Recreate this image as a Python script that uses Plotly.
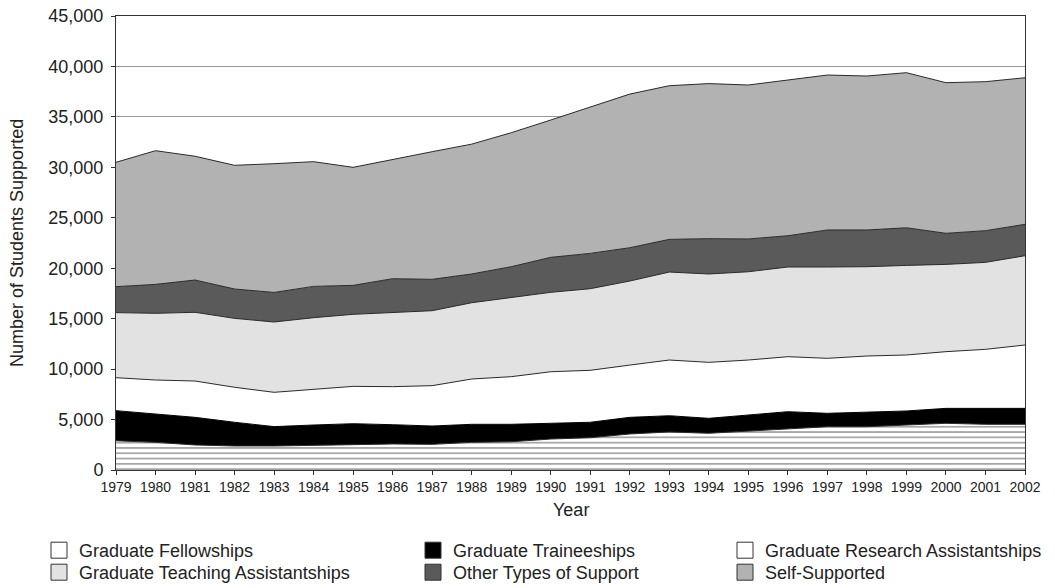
import plotly.graph_objects as go

years = list(range(1979, 2003))
year_labels = [str(y) for y in years]

fellowships = [2900, 2740, 2480, 2380, 2380, 2410, 2510, 2580, 2540, 2740, 2800, 3070,
               3200, 3570, 3770, 3640, 3870, 4130, 4290, 4290, 4460, 4630, 4530, 4530]
traineeships = [2980, 2810, 2740, 2350, 1920, 2050, 2080, 1910, 1820, 1790, 1730, 1560,
                1530, 1650, 1610, 1480, 1580, 1650, 1330, 1430, 1390, 1480, 1580, 1580]
research_asst = [3270, 3370, 3600, 3470, 3400, 3570, 3700, 3770, 4000, 4490, 4720, 5110,
                 5150, 5180, 5520, 5550, 5450, 5450, 5450, 5580, 5550, 5620, 5850, 6280]
teaching_asst = [6450, 6610, 6810, 6830, 6970, 7070, 7140, 7330, 7430, 7560, 7830, 7870,
                 8090, 8330, 8720, 8760, 8750, 8890, 9050, 8850, 8880, 8650, 8620, 8850]
other_support = [2570, 2870, 3200, 2910, 2930, 3100, 2870, 3370, 3110, 2850, 3070, 3470,
                 3500, 3300, 3240, 3500, 3250, 3100, 3670, 3640, 3730, 3080, 3140, 3110]
self_supported = [12330, 13250, 12270, 12260, 12760, 12360, 11700, 11840, 12650, 12870, 13280, 13610,
                  14530, 15230, 15230, 15370, 15260, 15430, 15360, 15260, 15370, 14930, 14770, 14530]

series_names = ["Graduate Fellowships", "Graduate Traineeships", "Graduate Research Assistantships",
                "Graduate Teaching Assistantships", "Other Types of Support", "Self-Supported"]
series_values = [fellowships, traineeships, research_asst, teaching_asst, other_support, self_supported]
series_colors = ["#ffffff", "#000000", "#ffffff", "#e2e2e2", "#5a5a5a", "#b2b2b2"]

TXT = "#222222"
FONT = "Liberation Sans, Arial, sans-serif"
W, H = 1055, 588
OFF = 8  # default page body margin offset
PL, PR, PT, PB = 116, 1025, 16, 470  # plot area in page pixels


def cx(px):
    return (px - OFF) / W


def cy(py):
    return 1 - (py - OFF) / H


fig = go.Figure()
for i, (name, vals, color) in enumerate(zip(series_names, series_values, series_colors)):
    kw = {}
    if i == 0:
        kw["fillpattern"] = dict(shape="-", fgcolor="#111111", bgcolor="#ffffff",
                                 size=5.3, solidity=0.25)
    fig.add_trace(go.Scatter(
        x=years, y=vals, name=name, mode="lines", stackgroup="one",
        line=dict(color="#000000" if color == "#000000" else "#2a2a2a", width=1),
        fillcolor=color, showlegend=False, hoverinfo="x+y+name", **kw))

# legend entries (square swatches), one legend box per entry, 3 columns x 2 rows
col_x = [39, 413, 725]
row_top = [532, 554]
legend_layout = {}
for i, (name, color) in enumerate(zip(series_names, series_colors)):
    key = "legend" if i == 0 else f"legend{i + 1}"
    fig.add_trace(go.Scatter(
        x=[None], y=[None], mode="markers", name=name, legend=key,
        marker=dict(symbol="square", size=16, color=color,
                    line=dict(color="#333333", width=1)),
        showlegend=True))
    legend_layout[key] = dict(
        orientation="v", xref="container", yref="container",
        xanchor="left", yanchor="top", bgcolor="rgba(0,0,0,0)",
        font=dict(family=FONT, size=18, color=TXT),
        itemsizing="trace", tracegroupgap=0, traceorder="normal",
        x=cx(col_x[i % 3]), y=cy(row_top[i // 3]))

fig.update_layout(
    width=W, height=H,
    margin=dict(l=PL - OFF, r=W + OFF - PR, t=PT - OFF, b=H + OFF - PB,
                autoexpand=False),
    paper_bgcolor="white", plot_bgcolor="white",
    font=dict(family=FONT, size=18, color=TXT),
    **legend_layout,
    xaxis=dict(
        type="linear", range=[1979, 2002], tickmode="array",
        tickvals=years, ticktext=year_labels, tickangle=0,
        tickfont=dict(family=FONT, size=14, color=TXT),
        ticks="outside", ticklen=4, tickcolor="#333333",
        showline=True, linecolor="#333333", linewidth=1, mirror=True,
        showgrid=False, zeroline=False,
    ),
    yaxis=dict(
        type="linear", range=[0, 45000], dtick=5000, tickformat=",",
        ticks="outside", ticklen=4, tickcolor="#333333",
        tickfont=dict(size=18, color=TXT), ticklabeloverflow="allow",
        ticklabelstandoff=4,
        showline=True, linecolor="#333333", linewidth=1, mirror=True,
        showgrid=True, gridcolor="#999999", gridwidth=1, zeroline=False,
    ),
    annotations=[
        dict(text="Year", xref="paper", yref="paper", x=0.5,
             y=(PB - 510) / (PB - PT), xanchor="center", yanchor="middle",
             showarrow=False, font=dict(size=18, color=TXT)),
        dict(text="Number of Students Supported", xref="paper", yref="paper",
             x=(17 - PL) / (PR - PL), y=0.5, xanchor="center", yanchor="middle",
             textangle=-90, showarrow=False, font=dict(size=18, color=TXT)),
    ],
)

fig.write_html("out.html")
